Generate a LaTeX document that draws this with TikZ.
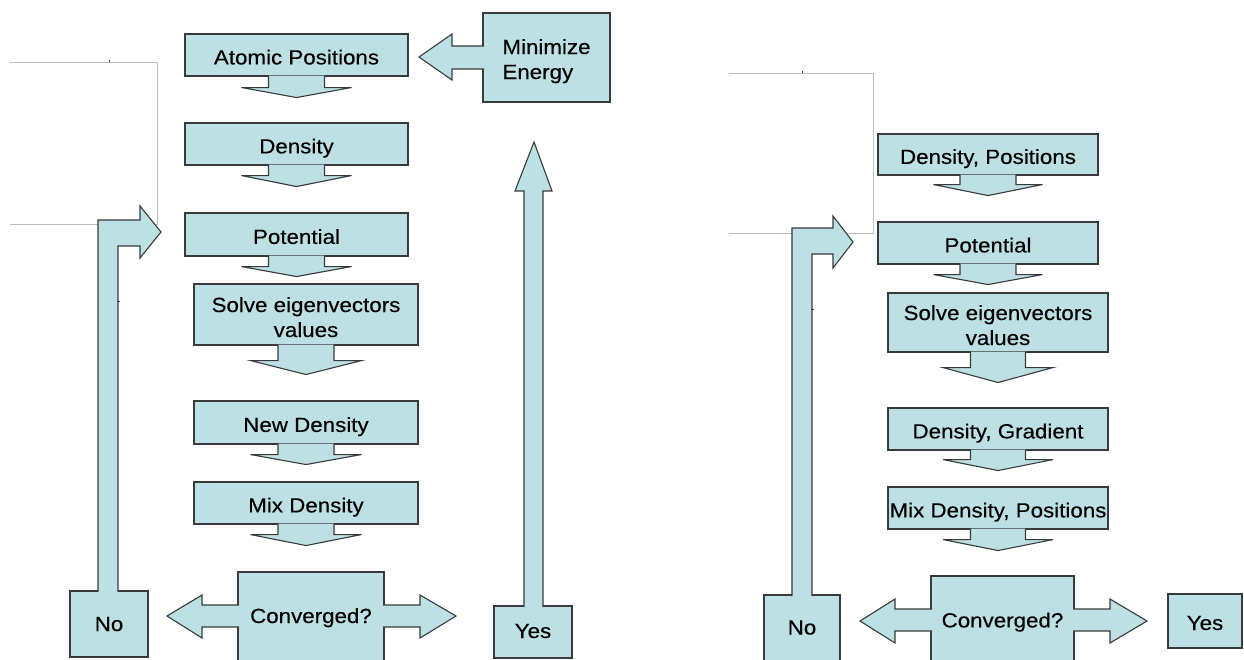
\documentclass[tikz,border=0pt]{standalone}
\usepackage{fontspec}
\setmainfont[FakeStretch=1.09,FakeBold=0.3]{Liberation Sans}
\definecolor{boxblue}{HTML}{BCE0E3}
\definecolor{edgegray}{HTML}{3A3A3A}
\definecolor{thingray}{HTML}{BDBDBD}
\newcommand{\downblock}[5]{%
  \filldraw[barrow,shift={(#1.south)}] (-#2,-1) -- (-#2,#4) -- (-#3,#4) -- (0,#5) -- (#3,#4) -- (#2,#4) -- (#2,-1);}
\newcommand{\bx}[3][-4.4pt]{\raisebox{#1}[\height][\depth]{\begin{tabular}{@{}#2@{}}#3\end{tabular}}}
\begin{document}
\begin{tikzpicture}[x=1pt,y=-1pt,
  box/.style={draw=edgegray,fill=boxblue,line width=1.1pt,inner sep=0pt,
    font=\fontsize{20.5}{25}\selectfont},
  barrow/.style={draw=edgegray,fill=boxblue,line width=1.1pt,line join=miter},
  thin/.style={draw=thingray,line width=0.7pt},
  tick/.style={draw=edgegray,line width=0.8pt}]
\useasboundingbox (0,0) rectangle (1244,659);
\clip (0,0) rectangle (1244,659);
% thin frame lines
\draw[thin] (10,62) -- (157,62) -- (157,224) -- (10,224);
\draw[thin] (729,73) -- (873,73) -- (873,233) -- (729,233);
\draw[tick] (109,59.5) -- (109,62);
\draw[tick] (802,70.5) -- (802,73);
% left diagram boxes
\node[box,minimum width=223,minimum height=42] (ap) at (296.5,55) {\bx{c}{Atomic Positions}};
\node[box,minimum width=223,minimum height=42] (dens) at (296.5,144) {\bx{c}{Density}};
\node[box,minimum width=223,minimum height=43] (pot) at (296.5,234.5) {\bx{c}{Potential}};
\node[box,minimum width=224,minimum height=61] (solve) at (306,314.5) {\bx[-5pt]{c}{Solve eigenvectors\\values}};
\node[box,minimum width=224,minimum height=43] (newd) at (306,422.5) {\bx{c}{New Density}};
\node[box,minimum width=224,minimum height=42] (mix) at (306,503) {\bx{c}{Mix Density}};
\node[box,minimum width=146,minimum height=90] (conv) at (311,617) {\bx[-1pt]{c}{Converged?}};
\node[box,minimum width=78,minimum height=66] (no) at (109,624) {\bx[-2pt]{c}{No}};
\node[box,minimum width=78,minimum height=52] (yes) at (533,632) {\bx[-1pt]{c}{Yes}};
\node[box,minimum width=127,minimum height=89] (min) at (546.5,57.5) {\bx[-4pt]{l}{Minimize\\Energy}};
% left diagram arrows
\downblock{ap}{28}{55}{11}{21}
\downblock{dens}{28}{55}{10}{21}
\downblock{pot}{28}{55}{10}{20}
\downblock{solve}{28}{55.5}{15}{29}
\downblock{newd}{28}{55.5}{10}{20}
\downblock{mix}{28}{55.5}{10}{21}
\filldraw[barrow] (484,46) -- (452,46) -- (452,34) -- (419,57) -- (452,80) -- (452,69) -- (484,69);
\filldraw[barrow] (239,605) -- (202,605) -- (202,595) -- (167,616) -- (202,638) -- (202,627) -- (239,627);
\filldraw[barrow] (383,605) -- (420,605) -- (420,595) -- (456,616) -- (420,638) -- (420,627) -- (383,627);
\filldraw[barrow] (98,592) -- (98,220) -- (140,220) -- (140,206) -- (161,232) -- (140,258) -- (140,246) -- (118,246) -- (118,592);
\filldraw[barrow] (524,607) -- (524,191) -- (515,191) -- (534,142) -- (552,191) -- (543,191) -- (543,607);
\draw[tick] (117,301) -- (119.5,301);
% right diagram boxes
\node[box,minimum width=220,minimum height=41] (dp) at (988,154.5) {\bx{c}{Density, Positions}};
\node[box,minimum width=220,minimum height=42] (pot2) at (988,243) {\bx{c}{Potential}};
\node[box,minimum width=220,minimum height=59] (solve2) at (998,322.5) {\bx[-5pt]{c}{Solve eigenvectors\\values}};
\node[box,minimum width=220,minimum height=42] (dg) at (998,429) {\bx{c}{Density, Gradient}};
\node[box,minimum width=220,minimum height=42] (mix2) at (998,508) {\bx{c}{Mix Density, Positions}};
\node[box,minimum width=143,minimum height=88] (conv2) at (1002.5,620) {\bx[-2.4pt]{c}{Converged?}};
\node[box,minimum width=76,minimum height=67] (no2) at (802,628.5) {\bx[-1pt]{c}{No}};
\node[box,minimum width=74,minimum height=54] (yes2) at (1205,621) {\bx[-4pt]{c}{Yes}};
% right diagram arrows
\downblock{dp}{28}{54.5}{9}{20}
\downblock{pot2}{28}{54.5}{10}{20}
\downblock{solve2}{27.5}{55}{15}{30}
\downblock{dg}{27.5}{55}{9}{20}
\downblock{mix2}{27.5}{55}{10}{21}
\filldraw[barrow] (932,609) -- (895,609) -- (895,599) -- (860,621) -- (895,643) -- (895,631) -- (932,631);
\filldraw[barrow] (1073,609) -- (1110,609) -- (1110,599) -- (1147,621) -- (1110,643) -- (1110,631) -- (1073,631);
\filldraw[barrow] (792,596) -- (792,228) -- (833,228) -- (833,216) -- (853,242) -- (833,268) -- (833,254) -- (812,254) -- (812,596);
\draw[tick] (811,309) -- (813.5,309);
\end{tikzpicture}
\end{document}
